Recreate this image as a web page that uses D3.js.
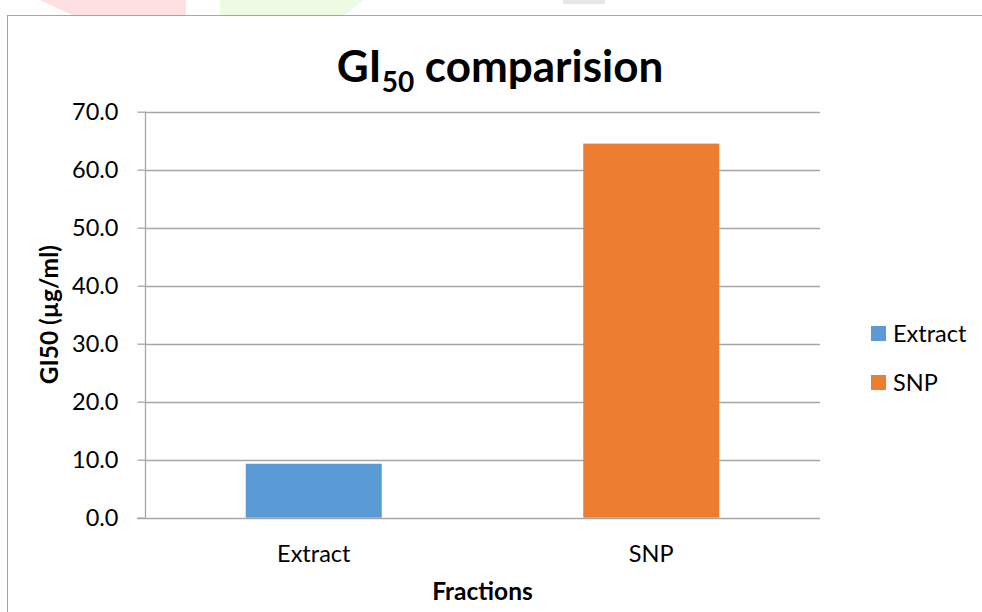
<!DOCTYPE html>
<html><head><meta charset="utf-8">
<script src="https://cdn.jsdelivr.net/npm/d3@7"></script>
<style>html,body{margin:0;padding:0;background:#fff;}svg{display:block;}</style>
</head><body>
<svg id="c" width="982" height="612"></svg>
<script>
const categories = ["Extract", "SNP"];
const values = [9.3, 64.5];
const seriesNames = ["Extract", "SNP"];
const colors = ["#5B9BD5", "#ED7D31"];
const yTicks = [0, 10, 20, 30, 40, 50, 60, 70];

const svg = d3.select("#c");
const font = "Lato, 'Carlito', sans-serif";
const fs = 23.5, fsb = 24.5;

// faint watermark remnants above the chart frame
svg.append("path").attr("d","M40,0 L186,0 L186,15 L72,15 Z").attr("fill","#ffe0e0");
svg.append("path").attr("d","M220,0 L363,0 L345,15 L220,15 Z").attr("fill","#eefbe4");
svg.append("rect").attr("x",563).attr("y",0).attr("width",42).attr("height",4).attr("fill","#e6e6e6");

// frame
svg.append("rect").attr("x",7.5).attr("y",15.5).attr("width",1000).attr("height",700)
  .attr("fill","none").attr("stroke","#a6a6a6").attr("stroke-width",1);

const m = {left:145, right:820, top:111.7, bottom:517.7};
const x = d3.scaleBand().domain(categories).range([m.left, m.right]).paddingInner(0.597).paddingOuter(0.2985);
const y = d3.scaleLinear().domain([0,70]).range([m.bottom, m.top]);

// gridlines
svg.append("g").selectAll("line").data(yTicks.filter(d=>d>0)).join("line")
  .attr("x1",m.left).attr("x2",m.right)
  .attr("y1",d=>Math.round(y(d))+0.5).attr("y2",d=>Math.round(y(d))+0.5)
  .attr("stroke","#a6a6a6").attr("stroke-width",1.3);

// bars
svg.append("g").selectAll("rect").data(categories).join("rect")
  .attr("x",d=>x(d)).attr("width",x.bandwidth())
  .attr("y",(d,i)=>y(values[i])).attr("height",(d,i)=>y(0)-y(values[i]))
  .attr("fill",(d,i)=>colors[i]);

// y axis
const yAxis = d3.axisLeft(y).tickValues(yTicks).tickFormat(d3.format(".1f")).tickSize(8).tickPadding(19);
const gy = svg.append("g").attr("transform",`translate(${m.left+0.5},0)`).call(yAxis);
gy.select(".domain").attr("stroke","#a6a6a6").attr("stroke-width",1.3).attr("d",`M0,${m.top}V${m.bottom}`);
gy.selectAll(".tick line").attr("stroke","#a6a6a6").attr("stroke-width",1.3);
gy.selectAll(".tick text").attr("font-family",font).attr("font-size",fs).attr("fill","#000");

// x axis
const xAxis = d3.axisBottom(x).tickSize(0).tickPadding(27);
const gx = svg.append("g").attr("transform",`translate(0,${Math.round(m.bottom)+0.5})`).call(xAxis);
gx.select(".domain").attr("stroke","#a6a6a6").attr("stroke-width",1.3).attr("d",`M${m.left-8},0H${m.right}`);
gx.selectAll(".tick text").attr("font-family",font).attr("font-size",fs).attr("fill","#000");

// axis titles
svg.append("text").attr("x",(m.left+m.right)/2).attr("y",600).attr("text-anchor","middle")
  .attr("font-family",font).attr("font-weight","bold").attr("font-size",fsb).text("Fractions");
svg.append("text").attr("transform",`translate(58,${(m.top+m.bottom)/2}) rotate(-90)`).attr("text-anchor","middle")
  .attr("font-family",font).attr("font-weight","bold").attr("font-size",fsb).text("GI50 (µg/ml)");

// title
const t = svg.append("text").attr("x",500).attr("y",82).attr("text-anchor","middle")
  .attr("font-family",font).attr("font-weight","bold").attr("font-size",44);
t.append("tspan").text("GI");
t.append("tspan").attr("font-size",28).attr("dy",10).text("50");
t.append("tspan").attr("dy",-10).text(" comparision");

// legend
const lg = svg.append("g").selectAll("g").data(seriesNames).join("g")
  .attr("transform",(d,i)=>`translate(871,${326+i*49})`);
lg.append("rect").attr("width",15).attr("height",15).attr("fill",(d,i)=>colors[i]);
lg.append("text").attr("x",22).attr("y",16).attr("font-family",font).attr("font-size",fs).attr("fill","#000").text(d=>d);
</script>
</body></html>
